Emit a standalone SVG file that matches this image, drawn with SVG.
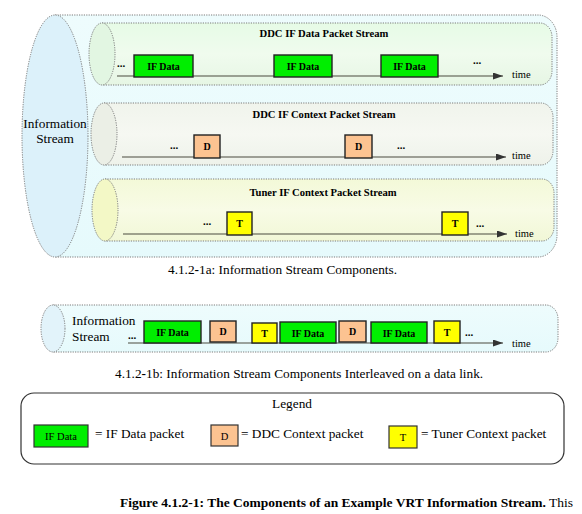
<svg xmlns="http://www.w3.org/2000/svg" width="582" height="514" viewBox="0 0 582 514">
<defs>
<marker id="arr" markerUnits="userSpaceOnUse" markerWidth="11" markerHeight="8" refX="10" refY="3.5" orient="auto">
<path d="M0,0 L10,3.5 L0,7 z" fill="#333"/>
</marker>
<linearGradient id="gOuter" x1="0" y1="0" x2="0" y2="1"><stop offset="0" stop-color="#eefcfd"/><stop offset="1" stop-color="#e6fafc"/></linearGradient>
<linearGradient id="g1" x1="0" y1="0" x2="0" y2="1"><stop offset="0" stop-color="#e6fbe6"/><stop offset="0.5" stop-color="#f0fbee"/><stop offset="1" stop-color="#e6f6e4"/></linearGradient>
<linearGradient id="g2" x1="0" y1="0" x2="0" y2="1"><stop offset="0" stop-color="#f0f4ec"/><stop offset="0.5" stop-color="#f6f8f2"/><stop offset="1" stop-color="#eef2ea"/></linearGradient>
<linearGradient id="g3" x1="0" y1="0" x2="0" y2="1"><stop offset="0" stop-color="#f3f9d8"/><stop offset="0.5" stop-color="#f8fbe6"/><stop offset="1" stop-color="#f1f7d6"/></linearGradient>
</defs>
<style>
.cyl{stroke:#7a7a7a;stroke-width:1;stroke-dasharray:1.2,1.2}
.tl{stroke:#4a4a3e;stroke-width:1.2;fill:none}
.pk{stroke:#222;stroke-width:1.4}
.g{fill:#00ee00}
.d{fill:#fcc391}
.t{fill:#ffff00}
.bt{font-family:"Liberation Serif",serif;font-weight:bold;font-size:10px;fill:#000;text-anchor:middle}
.ttl{font-family:"Liberation Serif",serif;font-weight:bold;font-size:10.6px;fill:#000;text-anchor:middle}
.dots{font-family:"Liberation Serif",serif;font-weight:bold;font-size:11px;fill:#000}
.tm{font-family:"Liberation Serif",serif;font-size:10.5px;fill:#000}
.rg{font-family:"Liberation Serif",serif;font-size:13.3px;fill:#000}
.lb{font-family:"Liberation Serif",serif;font-size:10.5px;fill:#000;text-anchor:middle}
</style>

<g id="outer-stream">
<path class="cyl" d="M55,15 H538 A19,22 0 0 1 557,37 V235 A19,22 0 0 1 538,257 H55 Z" fill="url(#gOuter)"/>
<ellipse class="cyl" cx="55" cy="136" rx="33" ry="121" fill="#dcf1fa"/>
<text class="rg" x="55" y="128" text-anchor="middle">Information</text>
<text class="rg" x="55" y="143" text-anchor="middle">Stream</text>
</g>

<g id="ddc-data-stream">
<path class="cyl" d="M102,23 H540 A12,14 0 0 1 552,37 V71 A12,14 0 0 1 540,85 H102 Z" fill="url(#g1)"/>
<ellipse class="cyl" cx="102" cy="54" rx="13" ry="31" fill="#e2f6e2"/>
<text class="ttl" x="324" y="37">DDC IF Data Packet Stream</text>
</g>

<g id="ddc-context-stream">
<path class="cyl" d="M104,103 H541 A12,14 0 0 1 553,117 V151 A12,14 0 0 1 541,165 H104 Z" fill="url(#g2)"/>
<ellipse class="cyl" cx="104" cy="134" rx="13" ry="31" fill="#ebefe6"/>
<text class="ttl" x="324" y="118">DDC IF Context Packet Stream</text>
</g>

<g id="tuner-context-stream">
<path class="cyl" d="M105,179 H542 A12,14 0 0 1 554,193 V227 A12,14 0 0 1 542,241 H105 Z" fill="url(#g3)"/>
<ellipse class="cyl" cx="105" cy="210" rx="13" ry="31" fill="#f3f8c6"/>
<text class="ttl" x="323" y="196">Tuner IF Context Packet Stream</text>
</g>

<g id="interleaved-stream">
<path class="cyl" d="M53,305 H546 A12,14 0 0 1 558,319 V338 A12,14 0 0 1 546,352 H53 Z" fill="url(#gOuter)"/>
<ellipse class="cyl" cx="53" cy="328.5" rx="12" ry="23.5" fill="#e2f3fa"/>
<text class="rg" x="72" y="325">Information</text>
<text class="rg" x="72" y="341">Stream</text>
</g>

<g id="connectors">
<line class="tl" x1="117" y1="76" x2="503" y2="76" marker-end="url(#arr)"/>
<line class="tl" x1="122" y1="157" x2="506" y2="157" marker-end="url(#arr)"/>
<line class="tl" x1="123" y1="234" x2="507" y2="234" marker-end="url(#arr)"/>
<line class="tl" x1="128" y1="343" x2="503" y2="343" marker-end="url(#arr)"/>
</g>

<g id="row1-packets">
<text class="dots" x="117" y="67">...</text>
<rect class="pk g" x="134" y="55" width="59" height="22"/><text class="bt" x="163.5" y="70">IF Data</text>
<rect class="pk g" x="274" y="55" width="58" height="22"/><text class="bt" x="303" y="70">IF Data</text>
<rect class="pk g" x="381" y="55" width="57" height="22"/><text class="bt" x="409.5" y="70">IF Data</text>
<text class="dots" x="473" y="64">...</text>
<text class="tm" x="512" y="78">time</text>
</g>

<g id="row2-packets">
<text class="dots" x="170" y="149">...</text>
<rect class="pk d" x="194" y="135" width="26" height="23"/><text class="bt" x="207" y="150">D</text>
<rect class="pk d" x="345" y="135" width="27" height="23"/><text class="bt" x="358.5" y="150">D</text>
<text class="dots" x="397" y="149">...</text>
<text class="tm" x="512" y="159">time</text>
</g>

<g id="row3-packets">
<text class="dots" x="203" y="225">...</text>
<rect class="pk t" x="227" y="212" width="25" height="23"/><text class="bt" x="239.5" y="227">T</text>
<rect class="pk t" x="442" y="212" width="26" height="23"/><text class="bt" x="455" y="227">T</text>
<text class="dots" x="476" y="227">...</text>
<text class="tm" x="515" y="237">time</text>
</g>

<text class="rg" x="168" y="274">4.1.2<tspan font-weight="bold">-</tspan>1a: Information Stream Components.</text>

<g id="row4-packets">
<text class="dots" x="128" y="339">...</text>
<rect class="pk g" x="144" y="321" width="57" height="22"/><text class="bt" x="172.5" y="336">IF Data</text>
<rect class="pk d" x="210" y="321" width="26" height="21"/><text class="bt" x="223" y="335">D</text>
<rect class="pk t" x="252" y="323" width="25" height="20"/><text class="bt" x="264.5" y="337">T</text>
<rect class="pk g" x="280" y="322" width="56" height="21"/><text class="bt" x="308" y="337">IF Data</text>
<rect class="pk d" x="339" y="321" width="27" height="21"/><text class="bt" x="352.5" y="335">D</text>
<rect class="pk g" x="371" y="322" width="56" height="21"/><text class="bt" x="399" y="337">IF Data</text>
<rect class="pk t" x="434" y="321" width="26" height="22"/><text class="bt" x="447" y="336">T</text>
<text class="dots" x="465" y="336">...</text>
<text class="tm" x="512" y="347">time</text>
</g>

<text class="rg" x="115" y="378">4.1.2<tspan font-weight="bold">-</tspan>1b: Information Stream Components Interleaved on a data link.</text>

<g id="legend">
<rect x="21" y="393" width="543" height="71" rx="13" ry="13" fill="#fff" stroke="#333" stroke-width="1.2"/>
<text class="rg" x="292" y="408" text-anchor="middle">Legend</text>
<rect x="34" y="425" width="54" height="22" fill="#00ee00" stroke="#333" stroke-width="1.2"/>
<text class="lb" x="61" y="440">IF Data</text>
<text class="rg" x="95" y="438">= IF Data packet</text>
<rect x="211" y="425" width="27" height="21" fill="#fcc391" stroke="#333" stroke-width="1.2"/>
<text class="lb" x="224.5" y="440">D</text>
<text class="rg" x="241" y="438">= DDC Context packet</text>
<rect x="389" y="426" width="28" height="22" fill="#ffff00" stroke="#333" stroke-width="1.2"/>
<text class="lb" x="403" y="441">T</text>
<text class="rg" x="421" y="438">= Tuner Context packet</text>
</g>

<text x="120" y="507" font-family="Liberation Serif, serif" font-size="13.5" fill="#000"><tspan font-weight="bold">Figure 4.1.2-1: The Components of an Example VRT Information Stream.</tspan> This</text>
</svg>
